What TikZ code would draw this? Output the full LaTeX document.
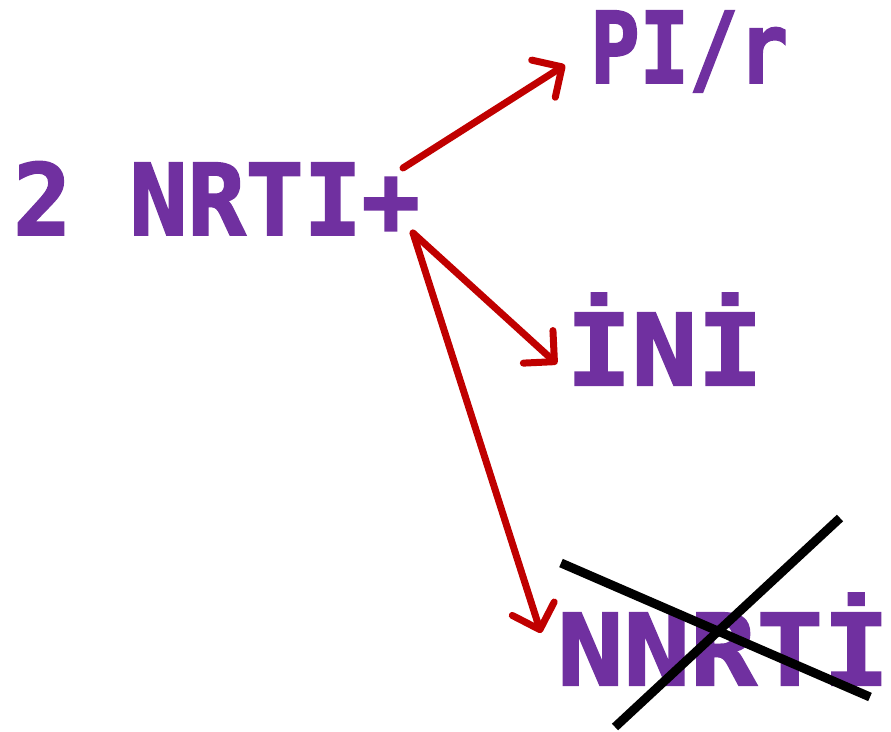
\documentclass[tikz,border=0pt]{standalone}
\usepackage{fontspec}
\setmonofont{DejaVu Sans Mono}[BoldFeatures={FakeBold=2}]
\usetikzlibrary{arrows.meta}
\definecolor{labelpurple}{HTML}{7030A0}
\definecolor{arrowred}{HTML}{C00000}
\tikzset{
  label text/.style={text=labelpurple, inner sep=0pt, anchor=base west,
    font=\fontsize{99}{105}\selectfont\ttfamily\bfseries},
  redarrow/.style={draw=arrowred, line width=7pt, line cap=round,
    -{Straight Barb[length=22pt, width=44pt, line width=7pt, round]}},
  crossout/.style={draw=black, line width=9pt}
}
\begin{document}
\begin{tikzpicture}[x=1pt, y=-1pt]
  \useasboundingbox (0,0) rectangle (891,731);
  % labels
  \node[label text] (src) at (13,235) {\scalebox{0.975}[1]{2 NRTI+}};
  \node[label text] (pi) at (590,83) {\scalebox{0.83}[1]{PI/r}};
  \node[label text] (ini) at (566,385) {\scalebox{1.1}[1]{İNİ}};
  \node[label text] (nnrti) at (557,685) {\scalebox{1.115}[1]{NNRTİ}};
  % arrow end points
  \coordinate (s1) at (403,168);
  \coordinate (s2) at (413,233);
  \coordinate (t1) at (565,65);
  \coordinate (t2) at (557,364);
  \coordinate (t3) at (541,633);
  \draw[redarrow] (s1) -- (t1);
  \draw[redarrow] (s2) -- (t2);
  \draw[redarrow] (s2) -- (t3);
  % the cross over NNRTI
  \coordinate (c1a) at (561,563);
  \coordinate (c1b) at (870,697);
  \coordinate (c2a) at (840,518);
  \coordinate (c2b) at (615,727);
  \draw[crossout] (c1a) -- (c1b);
  \draw[crossout] (c2a) -- (c2b);
\end{tikzpicture}
\end{document}
